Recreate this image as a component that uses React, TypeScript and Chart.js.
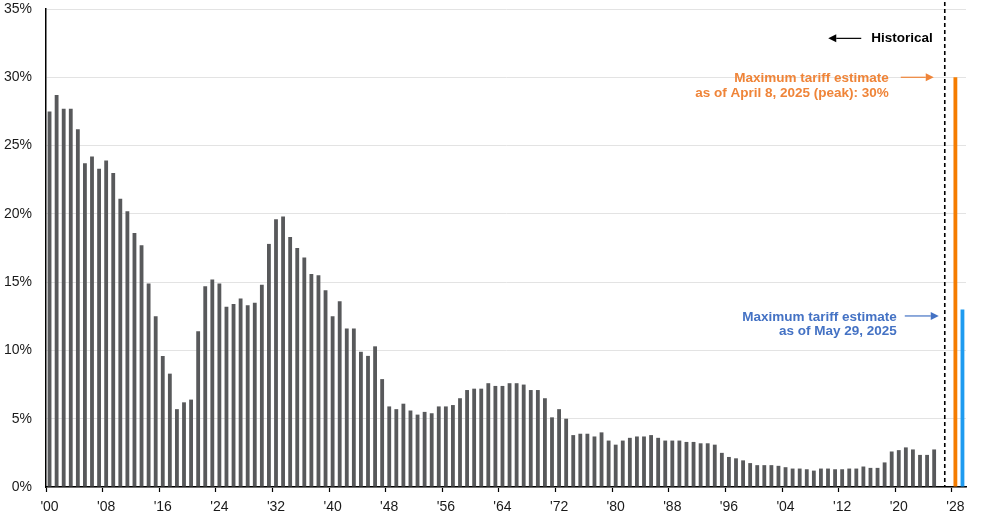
import React, { useEffect, useRef } from 'react';
import { Chart, registerables } from 'chart.js';

Chart.register(...registerables);

// ---- Data ----
const FIRST_YEAR = 1900;
const LAST_YEAR = 2029;
const HISTORICAL_END = 2025;

// Effective US tariff rate (%) 1900–2025
const historicalRates = [
  27.5, 28.7, 27.7, 27.7, 26.2, 23.7, 24.2, 23.3, 23.9, 23.0,
  21.1, 20.2, 18.6, 17.7, 14.9, 12.5, 9.6, 8.3, 5.7, 6.2,
  6.4, 11.4, 14.7, 15.2, 14.9, 13.2, 13.4, 13.8, 13.3, 13.5,
  14.8, 17.8, 19.6, 19.8, 18.3, 17.5, 16.8, 15.6, 15.5, 14.4,
  12.5, 13.6, 11.6, 11.6, 9.9, 9.6, 10.3, 7.9, 5.9, 5.7,
  6.1, 5.6, 5.3, 5.5, 5.4, 5.9, 5.9, 6.0, 6.5, 7.1,
  7.2, 7.2, 7.6, 7.4, 7.4, 7.6, 7.6, 7.5, 7.1, 7.1,
  6.5, 5.1, 5.7, 5.0, 3.8, 3.9, 3.9, 3.7, 4.0, 3.4,
  3.1, 3.4, 3.6, 3.7, 3.7, 3.8, 3.6, 3.4, 3.4, 3.4,
  3.3, 3.3, 3.2, 3.2, 3.1, 2.5, 2.2, 2.1, 1.95, 1.75,
  1.6, 1.6, 1.6, 1.55, 1.45, 1.35, 1.35, 1.3, 1.2, 1.35,
  1.35, 1.3, 1.3, 1.35, 1.35, 1.5, 1.4, 1.4, 1.8, 2.6,
  2.7, 2.9, 2.75, 2.35, 2.35, 2.75,
];

const estimateYears = [2028, 2029];
const estimateValues = [30, 13];
const estimateColors = ['#f57c00', '#1e9bf0'];

const yTickValues = [0, 5, 10, 15, 20, 25, 30, 35];
const LABEL_EVERY = 8;

const historicalText = 'Historical';
const aprilText = ['Maximum tariff estimate', 'as of April 8, 2025 (peak): 30%'];
const mayText = ['Maximum tariff estimate', 'as of May 29, 2025'];

const GRAY = '#58595b';
const ORANGE_TEXT = '#ef8438';
const BLUE_TEXT = '#4472c4';
const FONT = '"Liberation Sans", Arial, Helvetica, sans-serif';

// ---- Build table ----
const yearLabels: number[] = [];
const values: (number | null)[] = [];
const colors: string[] = [];
for (let y = FIRST_YEAR; y <= LAST_YEAR; y++) {
  yearLabels.push(y);
  const ei = estimateYears.indexOf(y);
  if (y <= HISTORICAL_END) {
    values.push(historicalRates[y - FIRST_YEAR]);
    colors.push(GRAY);
  } else if (ei >= 0) {
    values.push(estimateValues[ei]);
    colors.push(estimateColors[ei]);
  } else {
    values.push(null);
    colors.push(GRAY);
  }
}

function arrow(ctx: CanvasRenderingContext2D, x1: number, x2: number, y: number, color: string) {
  const dir = x2 > x1 ? 1 : -1;
  const head = 8;
  ctx.save();
  ctx.strokeStyle = color;
  ctx.fillStyle = color;
  ctx.lineWidth = 1.2;
  ctx.beginPath();
  ctx.moveTo(x1, y);
  ctx.lineTo(x2 - dir * head, y);
  ctx.stroke();
  ctx.beginPath();
  ctx.moveTo(x2, y);
  ctx.lineTo(x2 - dir * head, y - 4);
  ctx.lineTo(x2 - dir * head, y + 4);
  ctx.closePath();
  ctx.fill();
  ctx.restore();
}

const annotationPlugin = {
  id: 'tariffAnnotations',
  afterDraw(chart: any) {
    const { ctx, scales, chartArea } = chart;
    const xs = scales.x;
    const ys = scales.y;
    const i26 = HISTORICAL_END + 1 - FIRST_YEAR;
    const dashX = (xs.getPixelForValue(i26) + xs.getPixelForValue(i26 + 1)) / 2;

    ctx.save();
    ctx.strokeStyle = '#000';
    ctx.lineWidth = 1.6;
    ctx.setLineDash([4, 3]);
    ctx.beginPath();
    ctx.moveTo(dashX, 2);
    ctx.lineTo(dashX, chartArea.bottom);
    ctx.stroke();
    ctx.setLineDash([]);

    ctx.font = `bold 13.5px ${FONT}`;
    ctx.textBaseline = 'middle';
    ctx.textAlign = 'right';

    // Historical
    const hy = ys.getPixelForValue(32.85);
    const hRight = dashX - 12;
    ctx.fillStyle = '#000';
    ctx.fillText(historicalText, hRight, hy);
    const hw = ctx.measureText(historicalText).width;
    arrow(ctx, hRight - hw - 10, hRight - hw - 43, hy, '#000');

    // April estimate
    const ay = ys.getPixelForValue(estimateValues[0]);
    const aRight = dashX - 56;
    ctx.fillStyle = ORANGE_TEXT;
    ctx.fillText(aprilText[0], aRight, ay + 0.5);
    ctx.fillText(aprilText[1], aRight, ay + 15.5);
    arrow(ctx, aRight + 12, dashX - 11, ay, ORANGE_TEXT);

    // May estimate
    const my = ys.getPixelForValue(estimateValues[1]) + 6.5;
    const mRight = dashX - 48;
    ctx.fillStyle = BLUE_TEXT;
    ctx.fillText(mayText[0], mRight, my + 1);
    ctx.fillText(mayText[1], mRight, my + 15);
    arrow(ctx, mRight + 8, dashX - 6, my, BLUE_TEXT);

    ctx.restore();
  },
};

export default function App() {
  const canvasRef = useRef<HTMLCanvasElement | null>(null);

  useEffect(() => {
    if (!canvasRef.current) return;
    const chart = new Chart(canvasRef.current, {
      type: 'bar',
      data: {
        labels: yearLabels.map(String),
        datasets: [
          {
            data: values,
            backgroundColor: colors,
            borderWidth: 0,
            barPercentage: 0.54,
            categoryPercentage: 1,
          },
        ],
      },
      options: {
        animation: false,
        responsive: true,
        maintainAspectRatio: false,
        layout: { padding: { top: 9, right: 28, left: 0, bottom: 0 } },
        plugins: {
          legend: { display: false },
          tooltip: { enabled: false },
        },
        scales: {
          x: {
            type: 'category',
            offset: true,
            grid: {
              offset: true,
              drawOnChartArea: false,
              drawTicks: true,
              tickLength: 5,
              tickColor: (c: any) =>
                c.index !== undefined && c.index % LABEL_EVERY === 0 ? '#000' : 'rgba(0,0,0,0)',
              tickWidth: 1.2,
            },
            border: { display: true, color: '#000', width: 1.5 },
            ticks: {
              autoSkip: false,
              maxRotation: 0,
              minRotation: 0,
              padding: 7,
              color: '#1a1a1a',
              font: { family: FONT, size: 14 },
              callback: (_v: any, index: number) => {
                if (index % LABEL_EVERY !== 0) return '';
                const yr = yearLabels[index] % 100;
                return "'" + String(yr).padStart(2, '0');
              },
            },
            afterFit: (scale: any) => {
              scale.height = 28;
              scale.paddingLeft = 0;
              scale.paddingRight = 0;
            },
          },
          y: {
            min: 0,
            max: 35,
            afterBuildTicks: (scale: any) => {
              scale.ticks = yTickValues.map((v) => ({ value: v }));
            },
            grid: { color: '#e3e3e3', lineWidth: 1, drawTicks: false },
            border: { display: true, color: '#000', width: 1.5 },
            ticks: {
              padding: 14,
              color: '#1a1a1a',
              font: { family: FONT, size: 14 },
              callback: (v: any) => `${v}%`,
            },
            afterFit: (scale: any) => {
              scale.width = 46;
              scale.paddingTop = 0;
              scale.paddingBottom = 0;
            },
          },
        },
      },
      plugins: [annotationPlugin],
    });
    return () => chart.destroy();
  }, []);

  return (
    <div style={{ position: 'absolute', left: 0, top: 0, width: 994, height: 515, background: '#fff' }}>
      <canvas ref={canvasRef} />
    </div>
  );
}
